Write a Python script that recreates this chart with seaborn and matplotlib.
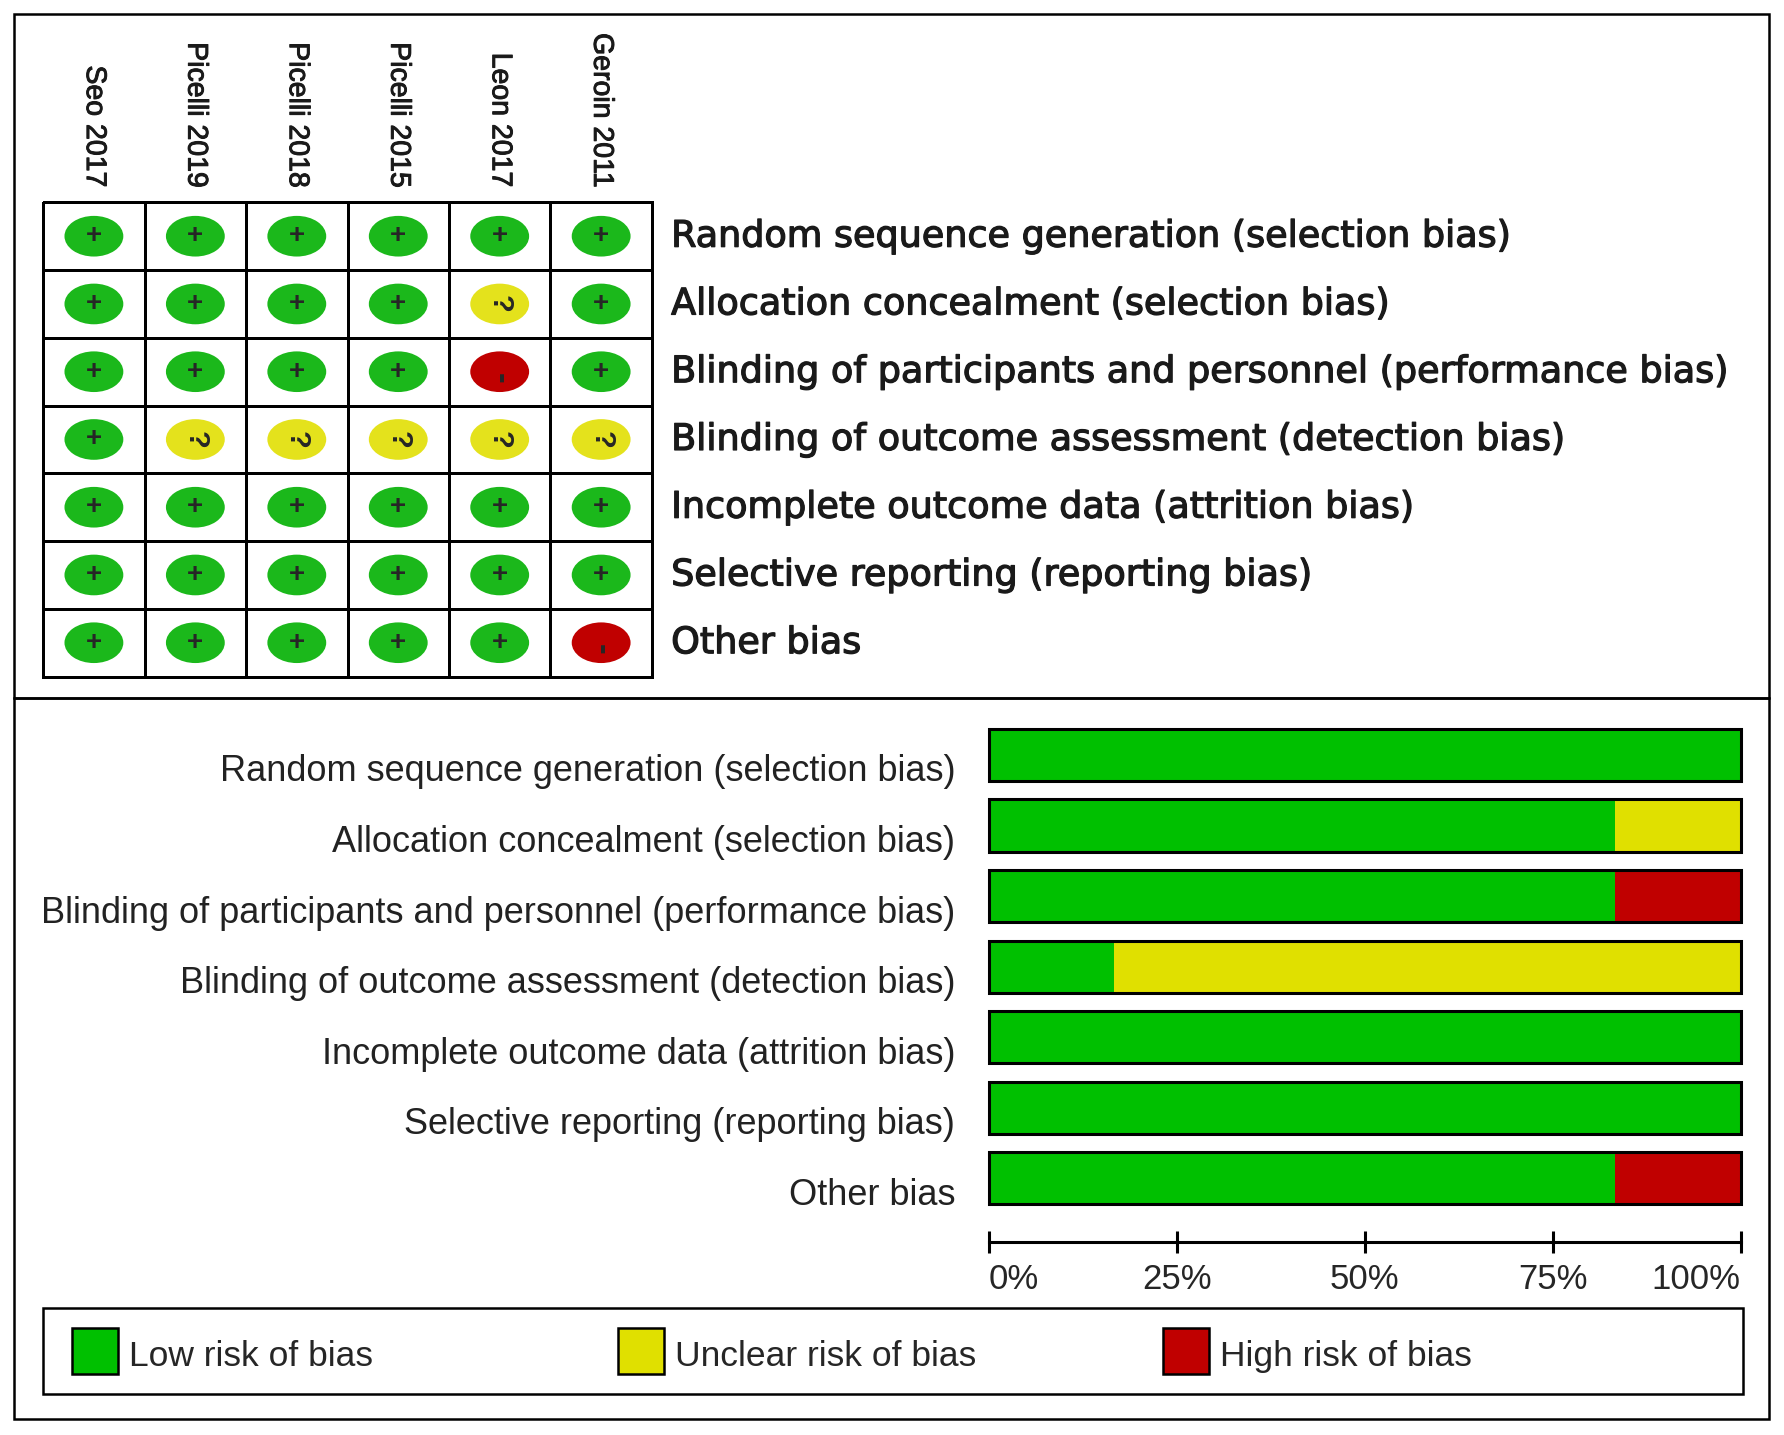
import numpy as np
import pandas as pd
import matplotlib
matplotlib.use("Agg")
import matplotlib.pyplot as plt
import matplotlib.patheffects as pe
from matplotlib.colors import ListedColormap
from matplotlib.patches import Ellipse, Rectangle
import seaborn as sns

sns.set_style("white")
plt.rcParams["font.family"] = ["Liberation Sans", "DejaVu Sans"]

# ---------------------------------------------------------
# Data
# ---------------------------------------------------------
studies = ["Seo 2017", "Picelli 2019", "Picelli 2018", "Picelli 2015", "Leon 2017", "Geroin 2011"]
domains = [
    "Random sequence generation (selection bias)",
    "Allocation concealment (selection bias)",
    "Blinding of participants and personnel (performance bias)",
    "Blinding of outcome assessment (detection bias)",
    "Incomplete outcome data (attrition bias)",
    "Selective reporting (reporting bias)",
    "Other bias",
]
# one row per domain, one entry per study: + low, ? unclear, - high
judgements = [
    ["+", "+", "+", "+", "+", "+"],
    ["+", "+", "+", "+", "?", "+"],
    ["+", "+", "+", "+", "-", "+"],
    ["+", "?", "?", "?", "?", "?"],
    ["+", "+", "+", "+", "+", "+"],
    ["+", "+", "+", "+", "+", "+"],
    ["+", "+", "+", "+", "+", "-"],
]
# summary percentages per domain
low_pct = [100, 83.3, 83.3, 16.7, 100, 100, 83.3]
unclear_pct = [0, 16.7, 0, 83.3, 0, 0, 0]
high_pct = [0, 0, 16.7, 0, 0, 0, 16.7]

legend_labels = ["Low risk of bias", "Unclear risk of bias", "High risk of bias"]
tick_vals = [0, 25, 50, 75, 100]
tick_labels = ["0%", "25%", "50%", "75%", "100%"]

GREEN, YELLOW, RED = "#00C000", "#E0E000", "#C00000"
dot_colors = {"+": "#1BB81B", "?": "#E4E21C", "-": "#C00000"}
thicken = [pe.withStroke(linewidth=0.9, foreground="#1a1a1a")]

fig = plt.figure(figsize=(17.84, 14.35), dpi=100)

# ---------------------------------------------------------
# Outer frames
# ---------------------------------------------------------
for y0, h in [(0.5135, 0.4770), (0.0111, 0.5024)]:
    fig.add_artist(Rectangle((0.0077, y0), 0.9840, h, transform=fig.transFigure,
                             fill=False, edgecolor="black", linewidth=1.8))

# ---------------------------------------------------------
# Top panel: risk of bias summary grid
# ---------------------------------------------------------
ax_g = fig.add_axes([0.0242, 0.5285, 0.3412, 0.3305])
sns.heatmap(np.zeros((len(domains), len(studies))), ax=ax_g, cmap=ListedColormap(["white"]),
            cbar=False, linewidths=1.8, linecolor="black", xticklabels=False, yticklabels=False)
ax_g.collections[0].set_clip_on(False)

for i, row in enumerate(judgements):
    for j, val in enumerate(row):
        ax_g.add_patch(Ellipse((j + 0.5, i + 0.5), 0.58, 0.60, facecolor=dot_colors[val],
                               edgecolor="none", zorder=3))
        if val == "+":
            ax_g.text(j + 0.5, i + 0.5, "+", ha="center", va="center", fontsize=20,
                      fontweight="bold", zorder=4)
        elif val == "?":
            ax_g.text(j + 0.5, i + 0.5, "?", ha="center", va="center", fontsize=21,
                      fontweight="bold", rotation=-90, zorder=4)
        else:
            ax_g.text(j + 0.5, i + 0.6, "-", ha="center", va="center", fontsize=23,
                      fontweight="bold", rotation=-90, zorder=4)

for j, name in enumerate(studies):
    ax_g.text(j + 0.5, -0.22, name, rotation=-90, ha="center", va="bottom", fontsize=20.5,
              color="#1a1a1a", path_effects=[pe.withStroke(linewidth=0.7, foreground="#1a1a1a")])

for i, dom in enumerate(domains):
    ax_g.text(len(studies) + 0.19, i + 0.5, dom, ha="left", va="center", fontsize=26.3,
              family="DejaVu Sans", color="#1a1a1a", path_effects=thicken, clip_on=False)

# ---------------------------------------------------------
# Bottom panel: stacked percentage bars
# ---------------------------------------------------------
df = pd.DataFrame({"domain": domains, "low": low_pct, "unclear": unclear_pct, "high": high_pct})
df["low_unclear"] = df["low"] + df["unclear"]
df["total"] = df["low_unclear"] + df["high"]

ax_b = fig.add_axes([0.5542, 0.1347, 0.4216, 0.3637])
bar_w = 0.74
sns.barplot(data=df, x="total", y="domain", color=RED, saturation=1, width=bar_w,
            edgecolor="none", ax=ax_b)
sns.barplot(data=df, x="low_unclear", y="domain", color=YELLOW, saturation=1, width=bar_w,
            edgecolor="none", ax=ax_b)
sns.barplot(data=df, x="low", y="domain", color=GREEN, saturation=1, width=bar_w,
            edgecolor="none", ax=ax_b)
sns.barplot(data=df, x="total", y="domain", color="black", fill=False, width=bar_w,
            linewidth=2.2, ax=ax_b)
for p in ax_b.patches:
    p.set_clip_on(False)

ax_b.set_xlim(0, 100)
ax_b.set_ylim(6.9, -0.5)
ax_b.set_xlabel("")
ax_b.set_ylabel("")
ax_b.set_yticks([])
for s in ["left", "top", "right"]:
    ax_b.spines[s].set_visible(False)
ax_b.spines["bottom"].set_linewidth(2.2)
ax_b.spines["bottom"].set_color("black")
ax_b.set_xticks(tick_vals)
ax_b.set_xticklabels(tick_labels, fontsize=25)
ax_b.tick_params(axis="x", direction="inout", length=16, width=2.2, color="black", pad=7,
                 bottom=True)
labels = ax_b.get_xticklabels()
labels[0].set_horizontalalignment("left")
labels[-1].set_horizontalalignment("right")

for i, dom in enumerate(domains):
    ax_b.annotate(dom, xy=(0, i + 0.24), xycoords=("axes fraction", "data"),
                  xytext=(-24, 0), textcoords="offset points", ha="right", va="center",
                  fontsize=26, color="#222222")

# ---------------------------------------------------------
# Legend box
# ---------------------------------------------------------
fig.add_artist(Rectangle((0.0242, 0.0285), 0.9528, 0.0602, transform=fig.transFigure,
                         fill=False, edgecolor="black", linewidth=1.8))
for px, tx, col, lab in zip([0.0402, 0.3463, 0.6518], [0.0721, 0.3782, 0.6837],
                            [GREEN, YELLOW, RED], legend_labels):
    fig.add_artist(Rectangle((px, 0.0428), 0.0258, 0.0317, transform=fig.transFigure,
                             facecolor=col, edgecolor="black", linewidth=1.8))
    fig.text(tx, 0.055, lab, ha="left", va="center", fontsize=25.5)

fig.savefig("out.png", dpi=100)
